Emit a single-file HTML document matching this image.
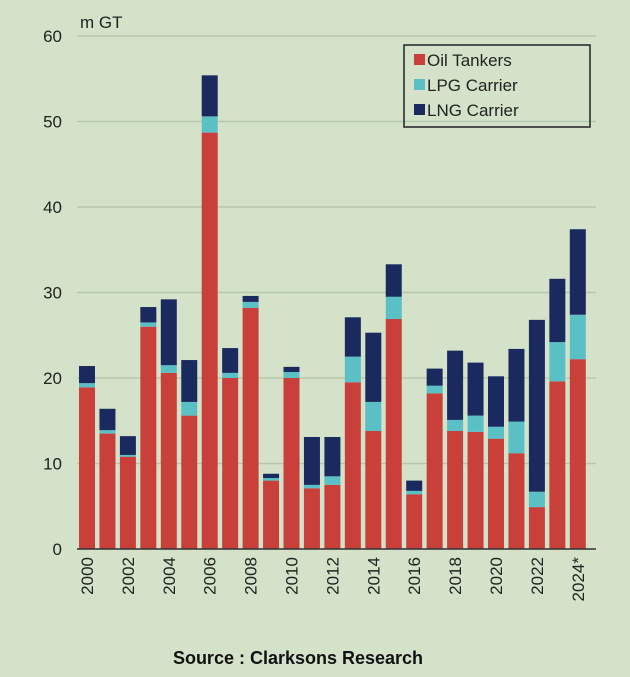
<!DOCTYPE html>
<html><head><meta charset="utf-8"><style>
body{margin:0;background:#d3e2c8;}
svg{display:block;font-family:"Liberation Sans",sans-serif;}
</style></head><body>
<svg id="chart" width="630" height="677">
<rect width="630" height="677" fill="#d3e2c8"/>
<g id="grid"></g><g id="bars"></g><g id="axes"></g>
<text x="80" y="28" font-size="17" fill="#222">m GT</text>
<g>
<rect x="404" y="45" width="186" height="82" fill="none" stroke="#222" stroke-width="1.5"/>
<rect x="414" y="54" width="11" height="11" fill="#c9403a"/>
<text x="427" y="66" font-size="17" fill="#222">Oil Tankers</text>
<rect x="414" y="79" width="11" height="11" fill="#5bbfc6"/>
<text x="427" y="91" font-size="17" fill="#222">LPG Carrier</text>
<rect x="414" y="104" width="11" height="11" fill="#1b2a5e"/>
<text x="427" y="116" font-size="17" fill="#222">LNG Carrier</text>
</g>
<text x="298" y="664" font-size="18" font-weight="bold" text-anchor="middle" fill="#111">Source : Clarksons Research</text>
</svg>
<script>
const years=["2000","2001","2002","2003","2004","2005","2006","2007","2008","2009","2010","2011","2012","2013","2014","2015","2016","2017","2018","2019","2020","2021","2022","2023","2024*"];
const oil=[18.9,13.5,10.8,26,20.6,15.6,48.7,20,28.2,8,20,7.1,7.5,19.5,13.8,26.9,6.4,18.2,13.8,13.7,12.9,11.2,4.9,19.6,22.2];
const lpg=[0.5,0.4,0.2,0.5,0.9,1.6,1.9,0.6,0.7,0.3,0.7,0.4,1.0,3.0,3.4,2.6,0.4,0.9,1.3,1.9,1.4,3.7,1.8,4.6,5.2];
const lng=[2.0,2.5,2.2,1.8,7.7,4.9,4.8,2.9,0.7,0.5,0.6,5.6,4.6,4.6,8.1,3.8,1.2,2.0,8.1,6.2,5.9,8.5,20.1,7.4,10.0];
const yTicks=[0,10,20,30,40,50,60];
const ns="http://www.w3.org/2000/svg";
const y0=549,pxPer=8.55,x0=77,x1=596,step=20.45,bw=16,firstC=87;
const Y=v=>y0-v*pxPer, X=i=>firstC+i*step;
function mk(t,a,p){const e=document.createElementNS(ns,t);for(const k in a)e.setAttribute(k,a[k]);p.appendChild(e);return e;}
const grid=document.getElementById('grid'),bars=document.getElementById('bars'),axes=document.getElementById('axes');
yTicks.forEach(t=>{
 if(t>0){const l=mk('line',{x1:x0,x2:x1,y1:Y(t),y2:Y(t),stroke:'#b9c8ad','stroke-width':1.5},grid);
 
 }
 const tx=mk('text',{x:62,y:Y(t)+6,'font-size':17,'text-anchor':'end',fill:'#222'},axes);tx.textContent=t;
 
 
});
years.forEach((yr,i)=>{
 const segs=[[oil[i],'#c9403a','oil'],[lpg[i],'#5bbfc6','lpg'],[lng[i],'#1b2a5e','lng']];
 let base=0;
 segs.forEach(s=>{const r=mk('rect',{x:X(i)-bw/2,y:Y(base+s[0]),width:bw,height:s[0]*pxPer,fill:s[1]},bars);
  
  
  base+=s[0];});
 if(i%2===0){const t=mk('text',{x:0,y:0,'font-size':17,'text-anchor':'end',fill:'#222',transform:`translate(${X(i)+6},557) rotate(-90)`},axes);t.textContent=yr;
  
  }
});
const ax=mk('line',{x1:x0,x2:x1,y1:y0,y2:y0,stroke:'#333','stroke-width':1.5},axes);


</script>
</body></html>
